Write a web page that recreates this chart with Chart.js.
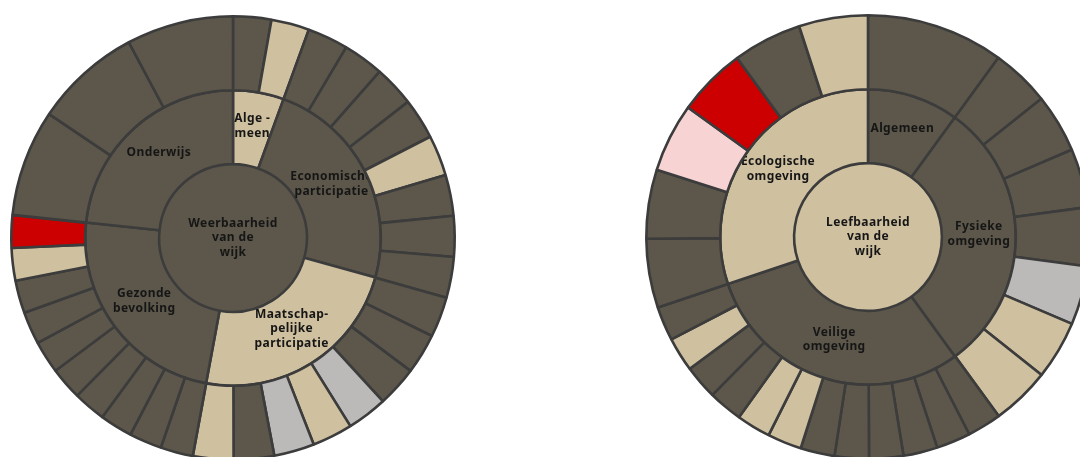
<!DOCTYPE html>
<html>
<head>
<meta charset="utf-8">
<script src="https://cdn.jsdelivr.net/npm/chart.js@4/dist/chart.umd.min.js"></script>
<style>
  html, body { margin: 0; padding: 0; background: #ffffff; }
  body { width: 1080px; height: 457px; overflow: hidden; position: relative; }
  .wrap { position: absolute; width: 460px; height: 460px; }
</style>
</head>
<body>
<div class="wrap" style="left:3px; top:8px;"><canvas id="leftChart"></canvas></div>
<div class="wrap" style="left:638px; top:7px;"><canvas id="rightChart"></canvas></div>
<script>
// ---------- Left sunburst: Weerbaarheid van de wijk ----------
const leftCenterLabel = ['Weerbaarheid', 'van de', 'wijk'];
const leftCenterStatus = 'd';
const leftThemeLabels = [
  ['Alge -', 'meen'],
  ['Economische', 'participatie'],
  ['Maatschap-', 'pelijke', 'participatie'],
  ['Gezonde', 'bevolking'],
  ['Onderwijs']
];
const leftThemeShares = [20, 85.5, 85, 85.5, 84];
const leftThemeStatus = ['b', 'd', 'b', 'd', 'd'];
const leftIndicatorShares = [
  10, 10,
  10.7, 10.7, 10.7, 10.7, 10.7, 10.7, 10.7, 10.7,
  10.6, 10.6, 10.6, 10.6, 10.6, 10.6, 10.6, 10.6,
  8.55, 8.55, 8.55, 8.55, 8.55, 8.55, 8.55, 8.55, 8.55, 8.55,
  28, 28, 28
];
const leftIndicatorStatus = [
  'd', 'b',
  'd', 'd', 'd', 'd', 'b', 'd', 'd', 'd',
  'd', 'd', 'd', 'g', 'b', 'g', 'd', 'b',
  'd', 'd', 'd', 'd', 'd', 'd', 'd', 'd', 'b', 'r',
  'd', 'd', 'd'
];

// ---------- Right sunburst: Leefbaarheid van de wijk ----------
const rightCenterLabel = ['Leefbaarheid', 'van de', 'wijk'];
const rightCenterStatus = 'b';
const rightThemeLabels = [
  ['Algemeen'],
  ['Fysieke', 'omgeving'],
  ['Veilige', 'omgeving'],
  ['Ecologische', 'omgeving']
];
const rightThemeShares = [36, 108, 107.5, 108.5];
const rightThemeStatus = ['d', 'd', 'd', 'b'];
const rightIndicatorShares = [
  36,
  15.4, 15.4, 15.4, 15.4, 15.4, 15.4, 15.4,
  8.96, 8.96, 8.96, 8.96, 8.96, 8.96, 8.96, 8.96, 8.96, 8.96, 8.96, 8.96,
  18.08, 18.08, 18.08, 18.08, 18.08, 18.08
];
const rightIndicatorStatus = [
  'd',
  'd', 'd', 'd', 'd', 'g', 'b', 'b',
  'd', 'd', 'd', 'd', 'd', 'd', 'b', 'b', 'd', 'd', 'b', 'd',
  'd', 'd', 'p', 'r', 'd', 'b'
];

// ---------- Styling ----------
const statusColors = { d: '#5c574a', b: '#cfc0a0', r: '#cc0000', p: '#f8d3d4', g: '#bcb9b9' };
const BORDER = '#3c3c3c';
const FONT = 'bold 12px "Noto Sans", "Open Sans", sans-serif';
const LINE_H = 14.6;

function drawLines(ctx, lines, x, y) {
  ctx.save();
  ctx.font = FONT;
  if ('letterSpacing' in ctx) ctx.letterSpacing = '0.4px';
  ctx.fillStyle = '#161616';
  ctx.textAlign = 'center';
  ctx.textBaseline = 'middle';
  const top = y - (lines.length - 1) * LINE_H / 2;
  lines.forEach((t, i) => ctx.fillText(t, x, top + i * LINE_H));
  ctx.restore();
}

const labelPlugin = {
  id: 'sunburstLabels',
  afterDatasetDraw(chart, args) {
    const ctx = chart.ctx;
    const cfg = chart.config.options.plugins.sunburstLabels;
    const meta = chart.getDatasetMeta(args.index);
    if (args.index === 2) {
      const arc = meta.data[0];
      drawLines(ctx, cfg.center, arc.x, arc.y);
    } else if (args.index === 1) {
      meta.data.forEach((arc, i) => {
        const mid = (arc.startAngle + arc.endAngle) / 2;
        const r = (arc.innerRadius + arc.outerRadius) / 2;
        drawLines(ctx, cfg.themes[i], arc.x + Math.cos(mid) * r, arc.y + Math.sin(mid) * r - 3);
      });
    }
  }
};

function makeChart(id, centerLabel, centerStatus, themeLabels, themeShares, themeStatus, indShares, indStatus) {
  return new Chart(document.getElementById(id), {
    type: 'doughnut',
    data: {
      labels: indShares.map((_, i) => 'indicator ' + (i + 1)),
      datasets: [
        {
          data: indShares,
          backgroundColor: indStatus.map(s => statusColors[s]),
          borderColor: BORDER,
          borderWidth: 2.6
        },
        {
          data: themeShares,
          backgroundColor: themeStatus.map(s => statusColors[s]),
          borderColor: BORDER,
          borderWidth: 2.6
        },
        {
          data: [1],
          backgroundColor: [statusColors[centerStatus]],
          borderWidth: 0
        }
      ]
    },
    options: {
      responsive: true,
      maintainAspectRatio: false,
      animation: false,
      events: [],
      cutout: 0,
      layout: { padding: 7 },
      plugins: {
        legend: { display: false },
        tooltip: { enabled: false },
        sunburstLabels: { center: centerLabel, themes: themeLabels }
      }
    },
    plugins: [labelPlugin]
  });
}

makeChart('leftChart', leftCenterLabel, leftCenterStatus, leftThemeLabels, leftThemeShares,
  leftThemeStatus, leftIndicatorShares, leftIndicatorStatus);
makeChart('rightChart', rightCenterLabel, rightCenterStatus, rightThemeLabels, rightThemeShares,
  rightThemeStatus, rightIndicatorShares, rightIndicatorStatus);
</script>
</body>
</html>
